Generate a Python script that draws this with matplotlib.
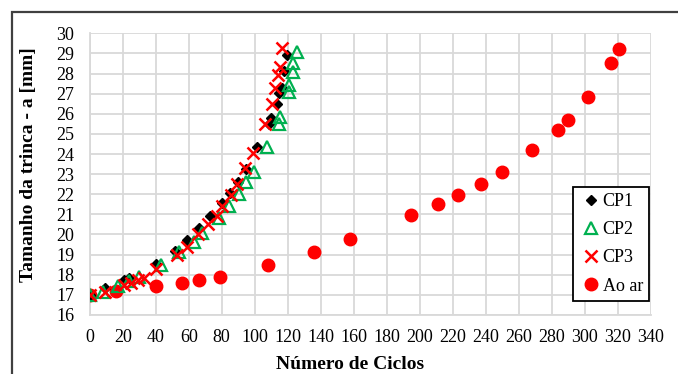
import matplotlib
matplotlib.use('Agg')
import matplotlib.pyplot as plt
from matplotlib.patches import Rectangle

# crack length (mm) vs number of cycles
cp1_x = [0, 9, 21, 24, 40, 52, 59, 66, 73, 80, 85, 90, 94.5, 101.5, 108.5, 110, 113.5, 115, 116.5, 117.5, 119.5]
cp1_y = [17.0, 17.33, 17.72, 17.83, 18.55, 19.2, 19.75, 20.3, 20.9, 21.55, 22.05, 22.6, 23.25, 24.35,
         25.5, 25.8, 26.5, 27.05, 27.3, 28.15, 28.9]

cp2_x = [0, 8, 17, 24, 30, 43, 54, 63, 68, 78.5, 84.5, 90.5, 95, 99.7, 107.5, 114.5, 115.3, 120.6, 121,
         123.2, 123.4, 125.7]
cp2_y = [17.0, 17.15, 17.45, 17.7, 17.9, 18.47, 19.15, 19.65, 20.05, 20.8, 21.4, 22.0, 22.6, 23.12, 24.35,
         25.5, 25.86, 27.1, 27.43, 28.1, 28.5, 29.08]

cp3_x = [0, 9, 21, 25, 29, 33, 40, 53, 59, 65.5, 72, 77, 80, 85.5, 89.5, 94, 99, 106, 110.3, 112.5, 114.3,
         115.3, 116.4]
cp3_y = [17.0, 17.12, 17.5, 17.6, 17.75, 17.85, 18.3, 19.0, 19.4, 20.0, 20.5, 20.9, 21.4, 21.95, 22.5, 23.3,
         24.05, 25.5, 26.47, 27.3, 27.93, 28.34, 29.27]

ar_x = [0, 16, 40, 56, 66, 79, 108, 136, 158, 195, 211, 223, 237, 250, 268, 284, 290, 302, 316, 321]
ar_y = [17.0, 17.2, 17.45, 17.6, 17.75, 17.9, 18.5, 19.15, 19.8, 20.95, 21.5, 21.95, 22.5, 23.1, 24.2,
        25.2, 25.7, 26.85, 28.5, 29.2]

plt.rcParams['font.family'] = ['Liberation Serif', 'DejaVu Serif']

fig = plt.figure(figsize=(6.78, 3.74), dpi=100)
ax = fig.add_axes([0.1323, 0.1578, 0.8274, 0.7532])

ax.plot(ar_x, ar_y, 'o', color='#ff0000', markersize=9, label='Ao ar', zorder=3)
ax.plot(cp1_x, cp1_y, 'D', color='black', markersize=5.5, label='CP1', zorder=4)
ax.plot(cp2_x, cp2_y, '^', color='#00b050', markerfacecolor='none', markersize=8.5,
        markeredgewidth=1.6, label='CP2', zorder=4)
ax.plot(cp3_x, cp3_y, 'x', color='#ff0000', markersize=8.5, markeredgewidth=1.8, label='CP3', zorder=5)

ax.set_xlim(0, 340)
ax.set_ylim(16, 30)
ax.set_xticks(range(0, 341, 20))
ax.set_yticks(range(16, 31))
ax.grid(True, color='#d9d9d9', linewidth=1.3)
ax.set_axisbelow(True)
for s in ax.spines.values():
    s.set_visible(False)
ax.spines['left'].set_visible(True)
ax.spines['bottom'].set_visible(True)
ax.spines['left'].set_color('#d9d9d9')
ax.spines['bottom'].set_color('#d9d9d9')
ax.spines['left'].set_linewidth(1.3)
ax.spines['bottom'].set_linewidth(1.3)
ax.tick_params(length=0, labelsize=13, pad=10)
ax.tick_params(axis='y', pad=11)

ax.set_xlabel('Número de Ciclos', fontsize=14, fontweight='bold')
ax.xaxis.set_label_coords(0.464, -0.145)
ax.set_ylabel('Tamanho da trinca - a [mm]', fontsize=14, fontweight='bold')
ax.yaxis.set_label_coords(-0.094, 0.532)

handles, labels = ax.get_legend_handles_labels()
order = [1, 2, 3, 0]
leg = ax.legend([handles[i] for i in order], [labels[i] for i in order],
                loc='lower right', bbox_to_anchor=(0.9975, 0.05), fontsize=13,
                fancybox=False, framealpha=1, edgecolor='black', handlelength=1.3,
                handletextpad=0.0, labelspacing=0.62, borderpad=0.35, borderaxespad=0)
leg.get_frame().set_linewidth(1.3)

# outer border of the chart area (cropped on the right and bottom)
fig.patches.append(Rectangle((12 / 678, -0.1), 1.2, 1.1 - 12 / 374, transform=fig.transFigure,
                             fill=False, edgecolor='#404040', linewidth=1.6))

fig.savefig('out.png', dpi=100)
